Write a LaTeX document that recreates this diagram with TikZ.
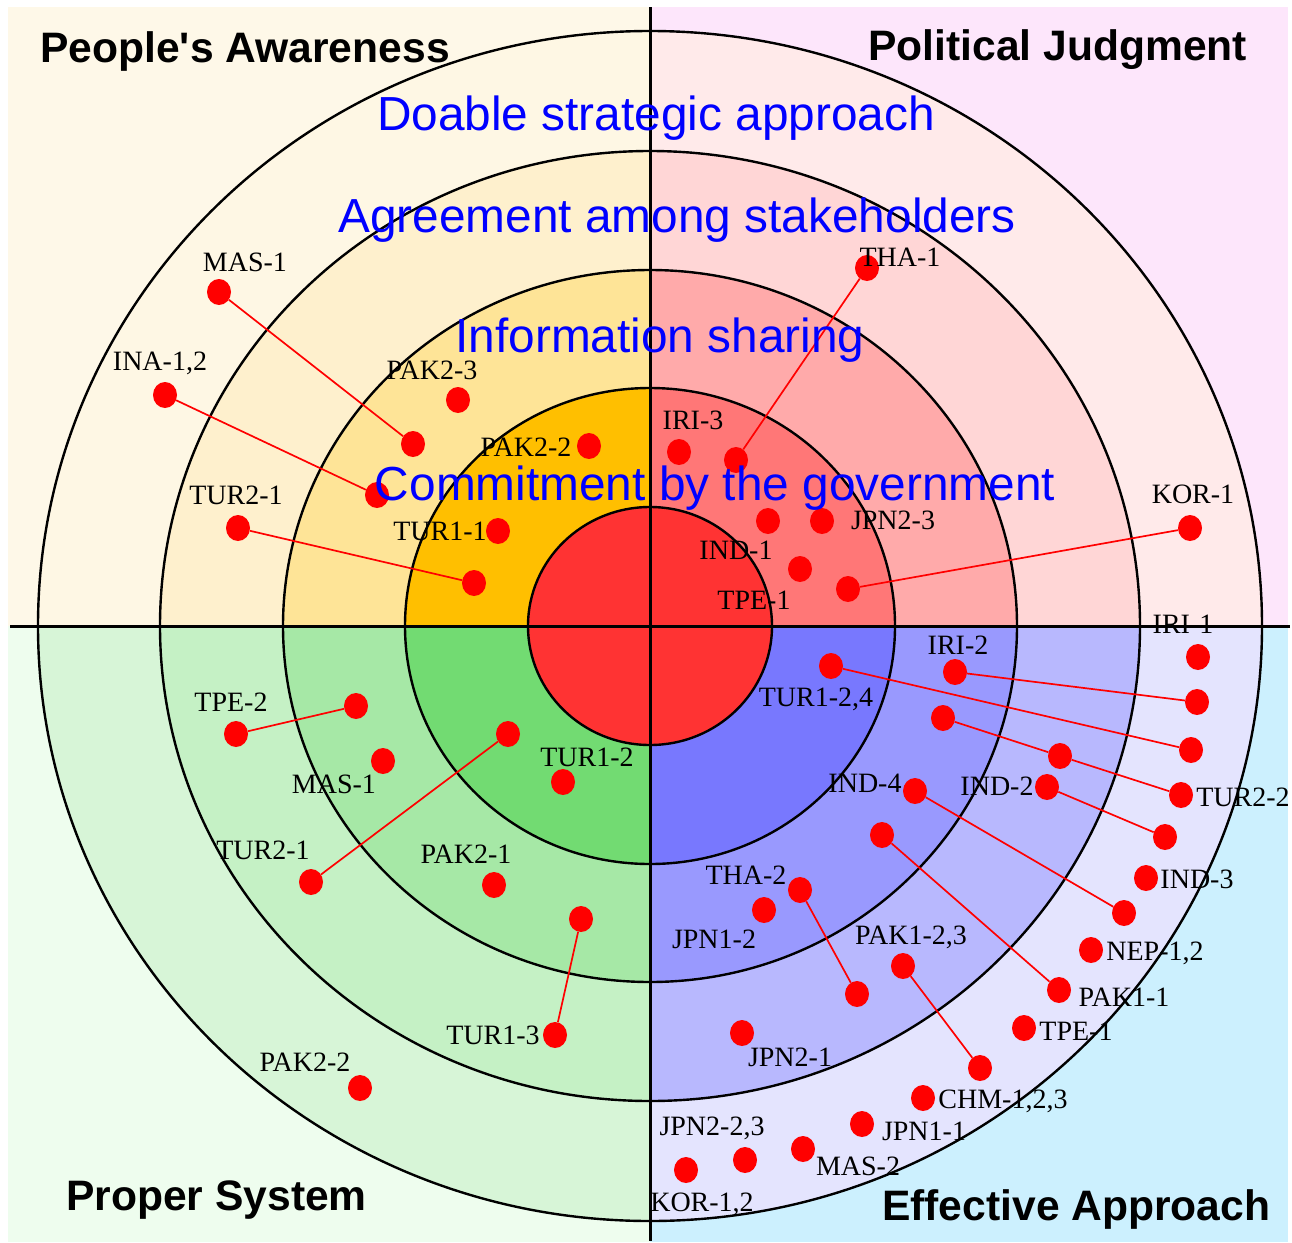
\documentclass[tikz,border=0pt]{standalone}
\usepackage{fontspec}
\setmainfont{Liberation Serif}
\newfontfamily\sansf{Liberation Sans}
\definecolor{tlbg}{HTML}{FEF8E8}\definecolor{tlA}{HTML}{FEF7E4}\definecolor{tlB}{HTML}{FEF0CD}\definecolor{tlC}{HTML}{FEE497}\definecolor{tlD}{HTML}{FFBF00}
\definecolor{trbg}{HTML}{FDE6FB}\definecolor{trA}{HTML}{FFEAEA}\definecolor{trB}{HTML}{FFD6D6}\definecolor{trC}{HTML}{FFAAAA}\definecolor{trD}{HTML}{FF7777}
\definecolor{blbg}{HTML}{EEFDEE}\definecolor{blA}{HTML}{D7F5D7}\definecolor{blB}{HTML}{C5F1C5}\definecolor{blC}{HTML}{A6E8A6}\definecolor{blD}{HTML}{72DB72}
\definecolor{brbg}{HTML}{CCF0FE}\definecolor{brA}{HTML}{E4E4FE}\definecolor{brB}{HTML}{B8B8FE}\definecolor{brC}{HTML}{9999FE}\definecolor{brD}{HTML}{7878FE}
\definecolor{core}{HTML}{FF3333}
\definecolor{dotred}{HTML}{FF0000}
\definecolor{txtblue}{HTML}{0000FF}
\newcommand{\myquad}[9]{%
  \begin{scope}
    \clip (#1,#2) rectangle (#3,#4);
    \fill[#5] (#1,#2) rectangle (#3,#4);
    \fill[#6] (650,626) ellipse [x radius=612pt, y radius=595pt];
    \fill[#7] (650,626) ellipse [x radius=490pt, y radius=475pt];
    \fill[#8] (650,626) ellipse [x radius=367pt, y radius=356pt];
    \fill[#9] (650,626) ellipse [x radius=245pt, y radius=238pt];
  \end{scope}}
\tikzset{
  ring/.style={draw=black, line width=2.4pt},
  axisline/.style={draw=black, line width=3pt},
  dot/.style={ellipse, fill=dotred, draw=none, minimum width=24pt, minimum height=26pt, inner sep=0pt},
  conn/.style={draw=dotred, line width=1.7pt},
  lab/.style={font=\fontsize{28}{30}\selectfont, text=black, inner sep=0pt},
  ringtext/.style={font=\sansf\fontsize{47.8}{50}\selectfont, text=txtblue, anchor=base, inner sep=0pt},
  qtitle/.style={font=\sansf\bfseries\fontsize{42.6}{44}\selectfont, text=black, anchor=base west, inner sep=0pt}
}
\usetikzlibrary{shapes.geometric}
\begin{document}
\begin{tikzpicture}[x=1pt,y=-1pt]
\useasboundingbox (0,0) rectangle (1292,1242);
\fill[white] (0,0) rectangle (1292,1242);
\myquad{8}{7}{650}{626}{tlbg}{tlA}{tlB}{tlC}{tlD}
\myquad{650}{7}{1288}{626}{trbg}{trA}{trB}{trC}{trD}
\myquad{8}{626}{650}{1242}{blbg}{blA}{blB}{blC}{blD}
\myquad{650}{626}{1288}{1242}{brbg}{brA}{brB}{brC}{brD}
\draw[ring] (650,626) ellipse [x radius=612pt, y radius=595pt];
\draw[ring] (650,626) ellipse [x radius=490pt, y radius=475pt];
\draw[ring] (650,626) ellipse [x radius=367pt, y radius=356pt];
\draw[ring] (650,626) ellipse [x radius=245pt, y radius=238pt];
\fill[core] (650,626) ellipse [x radius=122pt, y radius=119pt];
\draw[ring] (650,626) ellipse [x radius=122pt, y radius=119pt];

% ---- dots ----
% top-left
\node[dot] (tlMAS) at (219,292) {};
\node[dot] (tlMASe) at (413,444) {};
\node[dot] (tlINA) at (165,395) {};
\node[dot] (tlINAe) at (377,495) {};
\node[dot] (tlPAK23) at (458,400) {};
\node[dot] (tlPAK22) at (589,446) {};
\node[dot] (tlTUR21) at (238,528) {};
\node[dot] (tlTUR21e) at (474,583) {};
\node[dot] (tlTUR11) at (498,531) {};
% top-right
\node[dot] (trTHA) at (867,268) {};
\node[dot] (trTHAe) at (736,460) {};
\node[dot] (trIRI3) at (679,452) {};
\node[dot] (trJPNa) at (768,521) {};
\node[dot] (trJPNb) at (822,521) {};
\node[dot] (trIND1) at (800,569) {};
\node[dot] (trTPE1) at (848,589) {};
\node[dot] (trKOR1) at (1190,528) {};
% bottom-right
\node[dot] (brIRI1) at (1198,657) {};
\node[dot] (brIRI2) at (955,672) {};
\node[dot] (brIRI2e) at (1197,702) {};
\node[dot] (brTUR124) at (831,666) {};
\node[dot] (brTUR124e) at (1191,750) {};
\node[dot] (brT22a) at (943,718) {};
\node[dot] (brT22b) at (1060,756) {};
\node[dot] (brT22c) at (1181,795) {};
\node[dot] (brIND2) at (1047,787) {};
\node[dot] (brIND2e) at (1165,837) {};
\node[dot] (brIND3) at (1146,878) {};
\node[dot] (brIND4) at (915,791) {};
\node[dot] (brIND4e) at (1124,913) {};
\node[dot] (brPAK11s) at (882,835) {};
\node[dot] (brPAK11) at (1059,990) {};
\node[dot] (brNEP) at (1091,950) {};
\node[dot] (brTHA2) at (800,890) {};
\node[dot] (brTHA2e) at (857,994) {};
\node[dot] (brJPN12) at (764,910) {};
\node[dot] (brPAK123) at (903,966) {};
\node[dot] (brPAK123e) at (980,1068) {};
\node[dot] (brTPE1) at (1024,1028) {};
\node[dot] (brJPN21) at (742,1033) {};
\node[dot] (brCHM) at (923,1098) {};
\node[dot] (brJPN11) at (862,1124) {};
\node[dot] (brMAS2) at (803,1149) {};
\node[dot] (brJPN223) at (745,1160) {};
\node[dot] (brKOR12) at (686,1170) {};
% bottom-left
\node[dot] (blTPE2) at (236,734) {};
\node[dot] (blTPE2e) at (356,706) {};
\node[dot] (blMAS1) at (383,761) {};
\node[dot] (blTUR21) at (311,882) {};
\node[dot] (blTUR21e) at (508,734) {};
\node[dot] (blTUR12) at (563,782) {};
\node[dot] (blPAK21) at (494,885) {};
\node[dot] (blTUR13s) at (581,919) {};
\node[dot] (blTUR13) at (555,1035) {};
\node[dot] (blPAK22) at (360,1088) {};

% ---- connectors ----
\draw[conn] (tlMAS) -- (tlMASe);
\draw[conn] (tlINA) -- (tlINAe);
\draw[conn] (tlTUR21) -- (tlTUR21e);
\draw[conn] (trTHA) -- (trTHAe);
\draw[conn] (trTPE1) -- (trKOR1);
\draw[conn] (brIRI2) -- (brIRI2e);
\draw[conn] (brTUR124) -- (brTUR124e);
\draw[conn] (brT22a) -- (brT22b) -- (brT22c);
\draw[conn] (brIND2) -- (brIND2e);
\draw[conn] (brIND4) -- (brIND4e);
\draw[conn] (brPAK11s) -- (brPAK11);
\draw[conn] (brTHA2) -- (brTHA2e);
\draw[conn] (brPAK123) -- (brPAK123e);
\draw[conn] (blTPE2) -- (blTPE2e);
\draw[conn] (blTUR21) -- (blTUR21e);
\draw[conn] (blTUR13s) -- (blTUR13);

% ---- labels ----
\node[lab] (lMAS1a) at (245,262) {MAS-1};
\node[lab] (lINA) at (160,363) {INA-1,2};
\node[lab] (lPAK23) at (432,370) {PAK2-3};
\node[lab] (lPAK22a) at (526,447) {PAK2-2};
\node[lab] (lTUR21a) at (236,495) {TUR2-1};
\node[lab] (lTUR11) at (440,531) {TUR1-1};
\node[lab] (lTHA1) at (900,257) {THA-1};
\node[lab] (lIRI3) at (693,420) {IRI-3};
\node[lab] (lJPN23) at (893,520) {JPN2-3};
\node[lab] (lIND1) at (736,550) {IND-1};
\node[lab] (lTPE1a) at (754,600) {TPE-1};
\node[lab] (lKOR1) at (1193,494) {KOR-1};
\node[lab] (lIRI1) at (1183,624) {IRI-1};
\node[lab] (lIRI2) at (958,645) {IRI-2};
\node[lab] (lTUR124) at (816,699) {TUR1-2,4};
\node[lab] (lTUR22) at (1243,797) {TUR2-2};
\node[lab] (lIND2) at (997,786) {IND-2};
\node[lab] (lIND3) at (1197,879) {IND-3};
\node[lab] (lIND4) at (865,783) {IND-4};
\node[lab] (lPAK11) at (1124,997) {PAK1-1};
\node[lab] (lNEP) at (1155,953) {NEP-1,2};
\node[lab] (lTHA2) at (746,875) {THA-2};
\node[lab] (lJPN12) at (714,939) {JPN1-2};
\node[lab] (lPAK123) at (911,937) {PAK1-2,3};
\node[lab] (lTPE1b) at (1076,1031) {TPE-1};
\node[lab] (lJPN21) at (790,1057) {JPN2-1};
\node[lab] (lCHM) at (1003,1101) {CHM-1,2,3};
\node[lab] (lJPN11) at (924,1131) {JPN1-1};
\node[lab] (lMAS2) at (858,1166) {MAS-2};
\node[lab] (lJPN223) at (712,1128) {JPN2-2,3};
\node[lab] (lKOR12) at (702,1204) {KOR-1,2};
\node[lab] (lTPE2) at (231,702) {TPE-2};
\node[lab] (lMAS1b) at (334,784) {MAS-1};
\node[lab] (lTUR21b) at (263,850) {TUR2-1};
\node[lab] (lTUR12) at (587,757) {TUR1-2};
\node[lab] (lPAK21) at (466,854) {PAK2-1};
\node[lab] (lTUR13) at (493,1035) {TUR1-3};
\node[lab] (lPAK22b) at (305,1062) {PAK2-2};

% ---- axes ----
\draw[axisline] (10,626) -- (1290,626);
\draw[axisline] (650,7) -- (650,1241);

% ---- ring texts ----
\node[ringtext] (t1) at (656,130) {Doable strategic approach};
\node[ringtext] (t2) at (677,232) {Agreement among stakeholders};
\node[ringtext] (t3) at (660,352) {Information sharing};
\node[ringtext] (t4) at (715,500) {Commitment by the government};

% ---- quadrant titles ----
\node[qtitle] (q1) at (40,62) {People's Awareness};
\node[qtitle] (q2) at (868,60) {Political Judgment};
\node[qtitle] (q3) at (66,1210) {Proper System};
\node[qtitle] (q4) at (882,1220) {Effective Approach};
\end{tikzpicture}
\end{document}
